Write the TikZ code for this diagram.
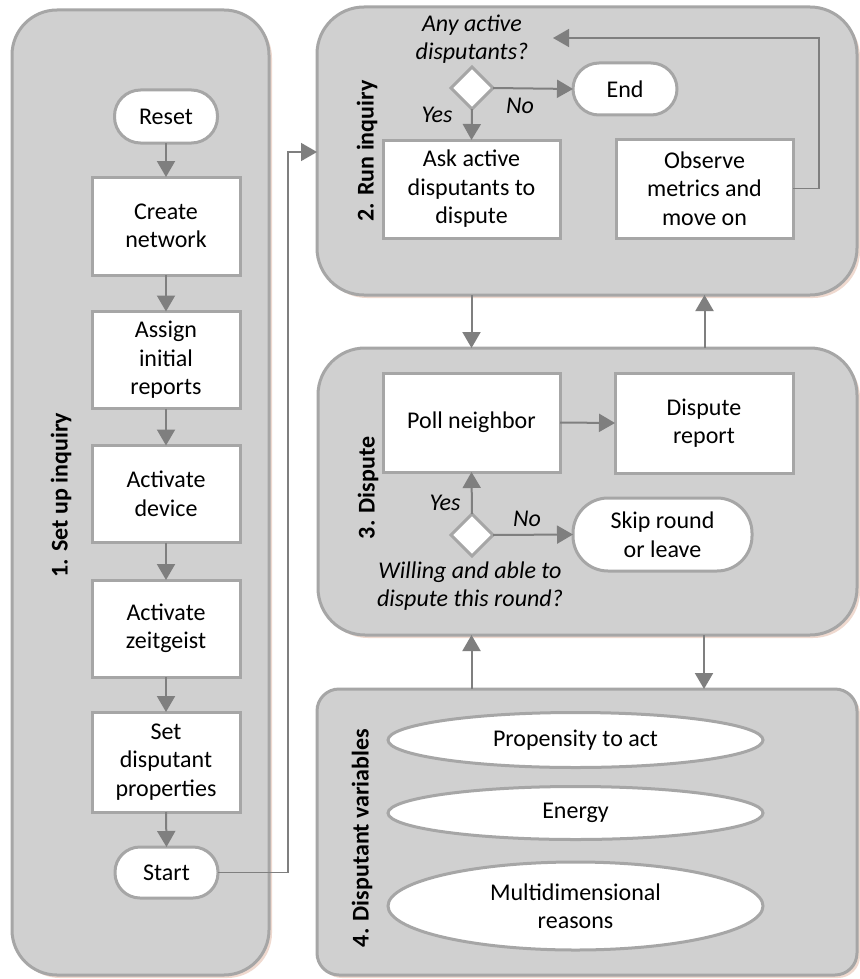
\documentclass[tikz,border=0pt]{standalone}
\usepackage{fontspec}
\setmainfont{Carlito}
\usetikzlibrary{shapes.geometric,arrows.meta,shadows}
\definecolor{panelfill}{RGB}{208,208,208}
\definecolor{panelline}{RGB}{166,166,166}
\definecolor{boxline}{RGB}{166,166,166}
\definecolor{arrowc}{RGB}{127,127,127}
\definecolor{shadowc}{RGB}{226,186,168}
\begin{document}
\begin{tikzpicture}[x=1pt,y=-1pt,
  every node/.style={font=\fontsize{24}{28.5}\selectfont, inner sep=0pt, outer sep=0pt},
  panel/.style={draw=panelline, line width=3pt, fill=panelfill, rounded corners=#1,
    drop shadow={shadow xshift=3pt, shadow yshift=-3pt, fill=shadowc, opacity=0.55}},
  procbox/.style={draw=boxline, line width=3pt, fill=white, align=center},
  termbox/.style={draw=boxline, line width=3pt, fill=white, align=center, rounded corners=#1},
  decision/.style={diamond, draw=boxline, line width=3pt, fill=white, minimum width=42pt, minimum height=42pt, aspect=1},
  varell/.style={ellipse, draw=boxline, line width=3pt, fill=white, align=center, minimum width=375pt},
  sectlabel/.style={rotate=90, font=\fontsize{24}{28.5}\selectfont\bfseries},
  ital/.style={font=\fontsize{24}{28.5}\selectfont\itshape, align=center},
  arr/.style={draw=arrowc, line width=2pt, -{Triangle[length=16pt,width=18pt]}},
  conn/.style={draw=arrowc, line width=1.5pt, -{Triangle[length=16pt,width=18pt]}}
]
\fill[white] (0,0) rectangle (859,979);
\useasboundingbox (0,0) rectangle (859,979);

% panels
\node[panel=45pt, minimum width=257pt, minimum height=965pt] (p1) at (140.5,492.5) {};
\node[panel=47pt, minimum width=540pt, minimum height=288pt] (p2) at (587,151) {};
\node[panel=47pt, minimum width=539pt, minimum height=287pt] (p3) at (587.5,491.5) {};
\node[panel=22pt, minimum width=540pt, minimum height=286pt] (p4) at (587,832) {};

% section labels
\node[sectlabel] (l1) at (61,495) {1. Set up inquiry};
\node[sectlabel] (l2) at (367,151) {2. Run inquiry};
\node[sectlabel] (l3) at (368,488) {3. Dispute};
\node[sectlabel] (l4) at (362,838) {4. Disputant variables};

% panel 1
\node[termbox=26pt, minimum width=103pt, minimum height=53pt] (reset) at (166,116.5) {Reset};
\node[procbox, minimum width=148pt, minimum height=98pt] (create) at (166,226) {Create\\network};
\node[procbox, minimum width=148pt, minimum height=97pt] (assign) at (166,360) {Assign\\initial\\reports};
\node[procbox, minimum width=148pt, minimum height=97pt] (device) at (166,494) {Activate\\device};
\node[procbox, minimum width=148pt, minimum height=97pt] (zeit) at (166,628.5) {Activate\\zeitgeist};
\node[procbox, minimum width=148pt, minimum height=100pt] (setp) at (166,762) {Set\\disputant\\properties};
\node[termbox=25pt, minimum width=103pt, minimum height=51pt] (start) at (166.5,872.5) {Start};

\draw[arr] (reset.south) -- (create.north);
\draw[arr] (create.south) -- (assign.north);
\draw[arr] (assign.south) -- (device.north);
\draw[arr] (device.south) -- (zeit.north);
\draw[arr] (zeit.south) -- (setp.north);
\draw[arr] (setp.south) -- (start.north);

% panel 2
\node[ital] (q1) at (472,39) {Any active\\disputants?};
\node[decision] (dq1) at (472,88) {};
\node[procbox, minimum width=177pt, minimum height=98pt] (ask) at (471.5,189) {Ask active\\disputants to\\dispute};
\node[termbox=26pt, minimum width=104pt, minimum height=52pt] (end) at (625,89) {End};
\node[procbox, minimum width=177pt, minimum height=99pt] (obs) at (704.5,188.5) {Observe\\metrics and\\move on};
\node[ital] (yes1) at (437,115) {Yes};
\node[ital] (no1) at (520,106) {No};
\draw[arr] (dq1.south) -- (ask.north);
\draw[arr] (dq1.east) -- (end.west);
\coordinate (fbc) at (819,38);
\coordinate (fb) at (553,38);
\draw[conn] (obs.east) -| (fbc) -- (fb);

% start -> run inquiry
\coordinate (sj) at (288,152);
\draw[conn] (start.east) -| (sj) -- (sj -| p2.west);

% panel 3
\node[procbox, minimum width=177pt, minimum height=99pt] (poll) at (471.5,422.5) {Poll neighbor};
\node[procbox, minimum width=178pt, minimum height=100pt] (rep) at (704,423) {Dispute\\report};
\node[decision] (dq2) at (472,535) {};
\node[termbox=35pt, minimum width=179pt, minimum height=73pt] (skip) at (662.5,534.5) {Skip round\\or leave};
\node[ital] (yes2) at (445,503) {Yes};
\node[ital] (no2) at (527,519) {No};
\node[ital] (q2) at (470,586) {Willing and able to\\dispute this round?};
\draw[arr] (poll.east) -- (rep.west);
\draw[arr] (dq2.north) -- (poll.south);
\draw[arr] (dq2.east) -- (skip.west);

% panel 4
\node[varell, minimum height=55pt] (e1) at (575.5,740) {Propensity to act};
\node[varell, minimum height=53pt] (e2) at (575.5,813) {Energy};
\node[varell, minimum height=88pt] (e3) at (575.5,906) {Multidimensional\\reasons};

% between panels
\draw[arr] (p2.south -| ask.south) -- (p3.north -| ask.south);
\draw[arr] (p3.north -| obs.south) -- (p2.south -| obs.south);
\draw[arr] (p3.south -| rep.south) -- (p4.north -| rep.south);
\draw[arr] (p4.north -| poll.south) -- (p3.south -| poll.south);
\end{tikzpicture}
\end{document}
